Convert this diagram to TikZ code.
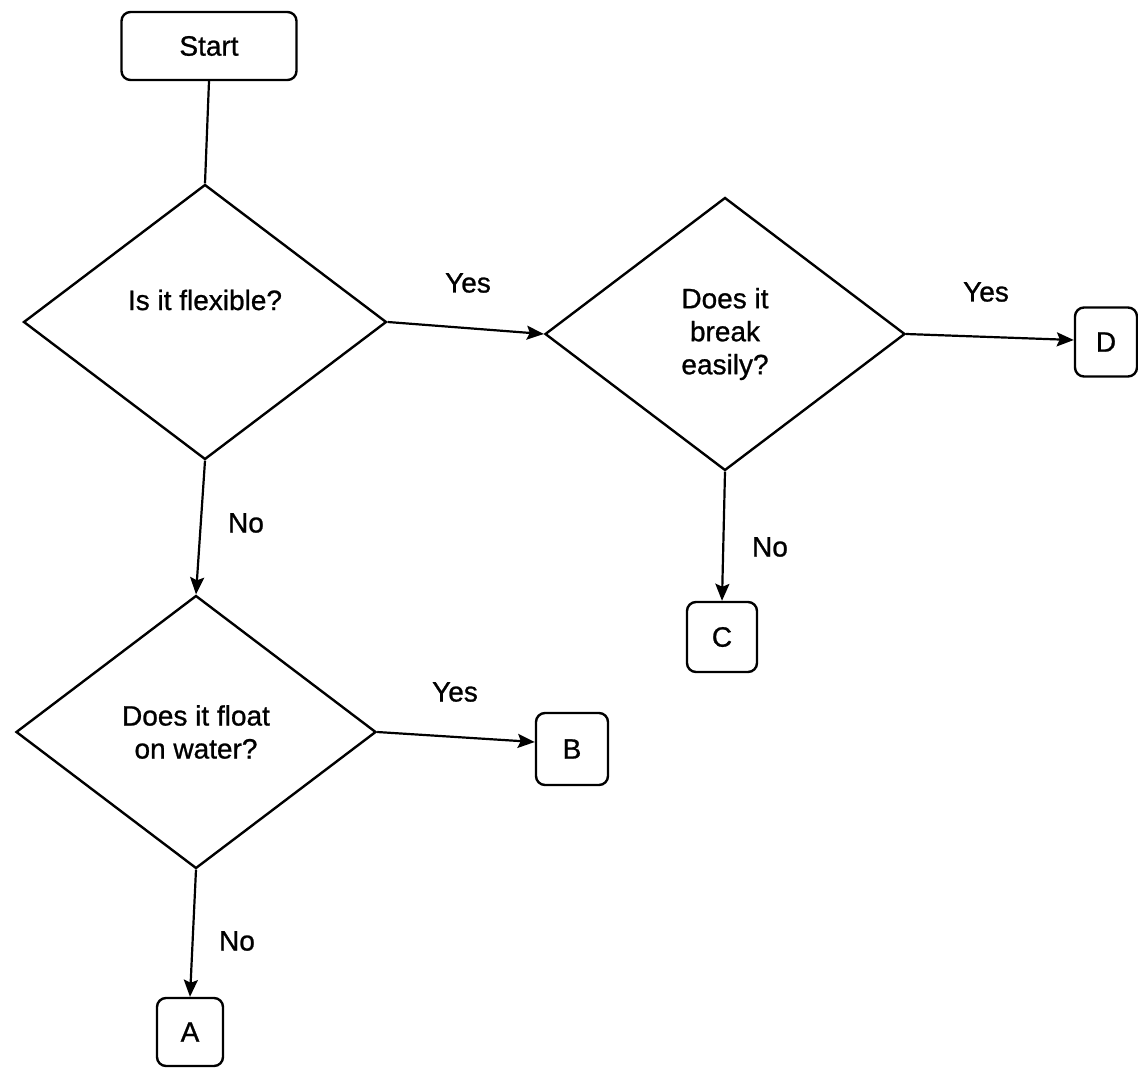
\documentclass[tikz,border=0pt]{standalone}
\usepackage{fontspec}
\setmainfont{Liberation Sans}[FakeBold=0.9]
\usetikzlibrary{shapes.geometric,arrows.meta}
\begin{document}
\begin{tikzpicture}[x=1pt,y=-1pt,
  every node/.style={font=\fontsize{28}{33}\selectfont},
  box/.style={draw, line width=2.4pt, rounded corners=9pt, inner sep=0pt},
  decision/.style={draw, diamond, line width=2.4pt, inner sep=0pt, align=center},
  conn/.style={line width=2.2pt},
  arr/.style={conn, -{Stealth[length=17pt,width=14pt,inset=3pt]}},
  lbl/.style={inner sep=0pt}]
\useasboundingbox (0,0) rectangle (1138,1068);
\fill[white] (0,0) rectangle (1138,1068);
% nodes
\node[box, minimum width=175pt, minimum height=68pt] (start) at (209,46) {Start};
\node[decision, minimum width=363pt, minimum height=275pt] (d1) at (205,322) {};
\node[lbl] (t1) at (205,300) {Is it flexible?};
\node[decision, minimum width=360pt, minimum height=273pt] (d2) at (725,334) {Does it\\break\\easily?};
\node[decision, minimum width=360pt, minimum height=273pt] (d3) at (196,732) {Does it float\\on water?};
\node[box, minimum width=62pt, minimum height=69pt] (D) at (1106,342) {D};
\node[box, minimum width=70pt, minimum height=70pt] (C) at (722,637) {C};
\node[box, minimum width=72pt, minimum height=72pt] (B) at (572,749) {B};
\node[box, minimum width=66pt, minimum height=68pt] (A) at (190,1032) {A};
% connectors
\draw[conn] (start.south) -- (d1.north);
\draw[arr] (d1.east) -- (d2.west);
\draw[arr] (d2.east) -- ([yshift=2pt]D.west);
\draw[arr] (d2.south) -- (C.north);
\draw[arr] (d1.south) -- (d3.north);
\draw[arr] (d3.east) -- ([yshift=7pt]B.west);
\draw[arr] (d3.south) -- (A.north);
% labels
\node[lbl] (y1) at (468,283) {Yes};
\node[lbl] (y2) at (986,292) {Yes};
\node[lbl] (y3) at (455,692) {Yes};
\node[lbl] (n1) at (246,523) {No};
\node[lbl] (n2) at (770,547) {No};
\node[lbl] (n3) at (237,941) {No};
\end{tikzpicture}
\end{document}
